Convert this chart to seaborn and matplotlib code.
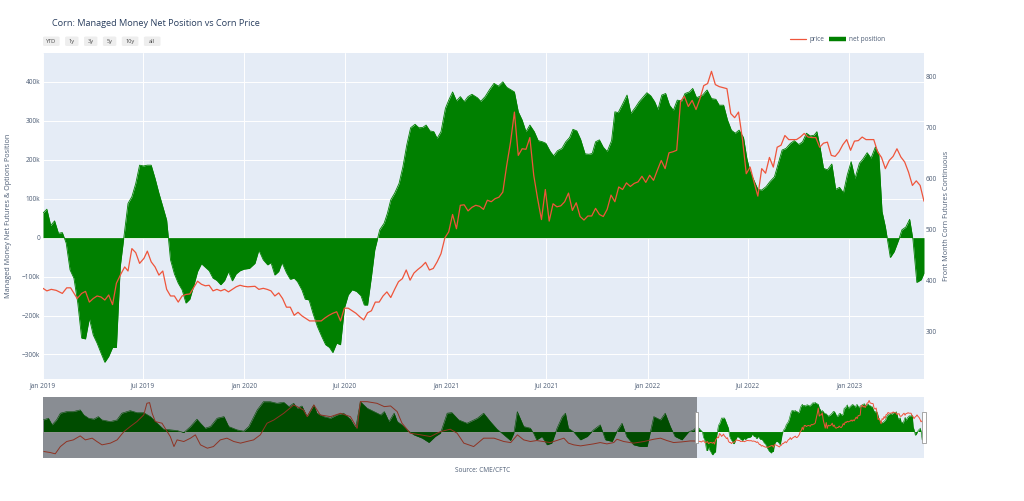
import pandas as pd
import matplotlib.pyplot as plt
import matplotlib.dates as mdates
import seaborn as sns
from matplotlib.lines import Line2D
from matplotlib.patches import Rectangle, FancyBboxPatch
from matplotlib.transforms import blended_transform_factory

# Managed money net position (thousand contracts), weekly COT readings shown in the main window
net_dates = [
    "2019-01-01", "2019-01-08", "2019-01-15", "2019-01-22", "2019-01-29", "2019-02-05", "2019-02-12", "2019-02-19",
    "2019-02-26", "2019-03-05", "2019-03-12", "2019-03-19", "2019-03-26", "2019-04-02", "2019-04-09", "2019-04-16",
    "2019-04-23", "2019-04-30", "2019-05-07", "2019-05-14", "2019-05-21", "2019-06-04", "2019-06-11", "2019-06-18",
    "2019-06-25", "2019-07-02", "2019-07-09", "2019-07-16", "2019-07-23", "2019-07-30", "2019-08-06", "2019-08-13",
    "2019-08-20", "2019-08-27", "2019-09-03", "2019-09-10", "2019-09-17", "2019-09-24", "2019-10-01", "2019-10-08",
    "2019-10-15", "2019-10-22", "2019-10-29", "2019-11-05", "2019-11-12", "2019-11-19", "2019-11-26", "2019-12-03",
    "2019-12-10", "2019-12-17", "2019-12-24", "2019-12-31", "2020-01-10", "2020-01-20", "2020-01-27", "2020-02-04",
    "2020-02-12", "2020-02-18", "2020-02-25", "2020-03-03", "2020-03-09", "2020-03-17", "2020-03-24", "2020-03-31",
    "2020-04-06", "2020-04-14", "2020-04-20", "2020-04-27", "2020-05-04", "2020-05-12", "2020-05-20", "2020-05-27",
    "2020-06-03", "2020-06-09", "2020-06-16", "2020-06-23", "2020-06-30", "2020-07-07", "2020-07-14", "2020-07-22",
    "2020-07-30", "2020-08-05", "2020-08-11", "2020-08-18", "2020-08-24", "2020-09-02", "2020-09-10", "2020-09-16",
    "2020-09-22", "2020-09-29", "2020-10-07", "2020-10-14", "2020-10-21", "2020-10-28", "2020-11-05", "2020-11-12",
    "2020-11-19", "2020-11-25", "2020-12-02", "2020-12-09", "2020-12-15", "2020-12-22", "2020-12-30", "2021-01-05",
    "2021-01-12", "2021-01-19", "2021-01-26", "2021-02-02", "2021-02-09", "2021-02-16", "2021-02-26", "2021-03-04",
    "2021-03-12", "2021-03-20", "2021-03-28", "2021-04-05", "2021-04-13", "2021-04-20", "2021-04-27", "2021-05-04",
    "2021-05-11", "2021-05-18", "2021-05-25", "2021-06-01", "2021-06-09", "2021-06-16", "2021-06-24", "2021-06-30",
    "2021-07-08", "2021-07-14", "2021-07-21", "2021-07-29", "2021-08-05", "2021-08-12", "2021-08-18", "2021-08-25",
    "2021-09-01", "2021-09-09", "2021-09-16", "2021-09-22", "2021-09-28", "2021-10-05", "2021-10-12", "2021-10-19",
    "2021-10-27", "2021-11-02", "2021-11-08", "2021-11-16", "2021-11-24", "2021-12-01", "2021-12-09", "2021-12-16",
    "2021-12-24", "2021-12-30", "2022-01-06", "2022-01-13", "2022-01-19", "2022-01-26", "2022-02-02", "2022-02-09",
    "2022-02-16", "2022-02-23", "2022-03-03", "2022-03-09", "2022-03-17", "2022-03-23", "2022-03-30", "2022-04-10",
    "2022-04-18", "2022-04-26", "2022-05-04", "2022-05-10", "2022-05-18", "2022-05-25", "2022-06-01", "2022-06-08",
    "2022-06-15", "2022-06-23", "2022-06-29", "2022-07-05", "2022-07-11", "2022-07-19", "2022-07-26", "2022-08-03",
    "2022-08-10", "2022-08-18", "2022-08-24", "2022-09-01", "2022-09-08", "2022-09-16", "2022-09-23", "2022-10-01",
    "2022-10-08", "2022-10-15", "2022-10-22", "2022-10-29", "2022-11-03", "2022-11-09", "2022-11-15", "2022-11-22",
    "2022-11-30", "2022-12-07", "2022-12-14", "2022-12-21", "2022-12-28", "2023-01-04", "2023-01-11", "2023-01-19",
    "2023-01-25", "2023-02-02", "2023-02-09", "2023-02-17", "2023-02-23", "2023-03-01", "2023-03-07", "2023-03-16",
    "2023-03-23", "2023-03-31", "2023-04-06", "2023-04-13", "2023-04-20", "2023-04-26", "2023-05-03", "2023-05-11",
    "2023-05-16",
]
net_k = [
    63, 73, 31, 43, 11, 13, -14, -83,
    -104, -168, -258, -260, -207, -250, -271, -296,
    -320, -305, -282, -282, -74, 88, 105, 139,
    186, 184, 186, 186, 152, 114, 80, 45,
    -57, -93, -117, -134, -168, -158, -124, -87,
    -67, -76, -85, -104, -110, -121, -110, -87,
    -111, -93, -85, -81, -79, -66, -32, -57,
    -70, -64, -96, -87, -64, -90, -107, -104,
    -113, -134, -158, -160, -194, -228, -254, -275,
    -282, -295, -271, -275, -181, -147, -134, -138,
    -149, -173, -173, -100, -32, 20, 37, 63,
    97, 114, 139, 182, 238, 282, 291, 282,
    283, 289, 274, 272, 255, 272, 332, 353,
    374, 351, 362, 349, 362, 368, 359, 350,
    362, 380, 396, 389, 400, 386, 380, 374,
    323, 302, 272, 289, 272, 249, 246, 242,
    221, 210, 223, 229, 246, 257, 278, 274,
    252, 215, 214, 216, 246, 251, 232, 221,
    249, 323, 321, 343, 366, 319, 334, 349,
    362, 372, 364, 349, 329, 366, 370, 340,
    327, 353, 351, 370, 374, 383, 359, 366,
    379, 357, 355, 340, 340, 302, 276, 268,
    276, 257, 204, 169, 150, 124, 122, 131,
    144, 156, 186, 225, 229, 242, 249, 239,
    246, 268, 261, 263, 272, 229, 178, 174,
    189, 124, 129, 115, 161, 195, 152, 191,
    201, 218, 204, 233, 216, 67, 28, -51,
    -36, -6, 20, 27, 47, -5, -115, -108,
    -91,
]

# Front month corn futures (cents/bu)
price_dates = [
    "2019-01-01", "2019-01-08", "2019-01-16", "2019-01-25", "2019-02-05", "2019-02-13", "2019-02-20", "2019-03-04",
    "2019-03-12", "2019-03-19", "2019-03-26", "2019-04-02", "2019-04-09", "2019-04-16", "2019-04-23", "2019-04-30",
    "2019-05-07", "2019-05-14", "2019-05-22", "2019-05-29", "2019-06-04", "2019-06-11", "2019-06-18", "2019-06-25",
    "2019-07-03", "2019-07-09", "2019-07-16", "2019-07-23", "2019-07-30", "2019-08-06", "2019-08-13", "2019-08-20",
    "2019-08-27", "2019-09-03", "2019-09-10", "2019-09-17", "2019-09-24", "2019-10-08", "2019-10-15", "2019-10-22",
    "2019-10-29", "2019-11-05", "2019-11-12", "2019-11-19", "2019-11-26", "2019-12-03", "2019-12-10", "2019-12-17",
    "2019-12-24", "2019-12-31", "2020-01-07", "2020-01-20", "2020-01-27", "2020-02-04", "2020-02-11", "2020-02-18",
    "2020-02-25", "2020-03-03", "2020-03-10", "2020-03-17", "2020-03-24", "2020-03-31", "2020-04-07", "2020-04-14",
    "2020-04-21", "2020-04-28", "2020-05-05", "2020-05-12", "2020-05-19", "2020-05-26", "2020-06-02", "2020-06-09",
    "2020-06-16", "2020-06-23", "2020-06-30", "2020-07-07", "2020-07-14", "2020-07-21", "2020-07-28", "2020-08-04",
    "2020-08-11", "2020-08-18", "2020-08-25", "2020-09-01", "2020-09-08", "2020-09-15", "2020-09-22", "2020-09-29",
    "2020-10-06", "2020-10-13", "2020-10-20", "2020-10-27", "2020-11-03", "2020-11-10", "2020-11-17", "2020-11-24",
    "2020-12-01", "2020-12-08", "2020-12-15", "2020-12-22", "2020-12-29", "2021-01-05", "2021-01-12", "2021-01-19",
    "2021-01-26", "2021-02-02", "2021-02-09", "2021-02-16", "2021-02-23", "2021-03-02", "2021-03-09", "2021-03-16",
    "2021-03-23", "2021-03-30", "2021-04-06", "2021-04-13", "2021-04-20", "2021-04-27", "2021-05-04", "2021-05-11",
    "2021-05-18", "2021-05-25", "2021-06-01", "2021-06-08", "2021-06-15", "2021-06-22", "2021-06-29", "2021-07-06",
    "2021-07-13", "2021-07-20", "2021-07-27", "2021-08-03", "2021-08-10", "2021-08-17", "2021-08-24", "2021-08-31",
    "2021-09-07", "2021-09-14", "2021-09-21", "2021-09-28", "2021-10-05", "2021-10-12", "2021-10-19", "2021-10-26",
    "2021-11-02", "2021-11-09", "2021-11-16", "2021-11-23", "2021-11-30", "2021-12-07", "2021-12-14", "2021-12-21",
    "2021-12-28", "2022-01-04", "2022-01-11", "2022-01-18", "2022-01-25", "2022-02-01", "2022-02-08", "2022-02-15",
    "2022-02-22", "2022-03-01", "2022-03-08", "2022-03-15", "2022-03-22", "2022-03-29", "2022-04-05", "2022-04-12",
    "2022-04-19", "2022-04-26", "2022-05-03", "2022-05-10", "2022-05-17", "2022-05-24", "2022-05-31", "2022-06-07",
    "2022-06-14", "2022-06-21", "2022-06-28", "2022-07-05", "2022-07-12", "2022-07-19", "2022-07-26", "2022-08-02",
    "2022-08-09", "2022-08-16", "2022-08-23", "2022-08-30", "2022-09-06", "2022-09-13", "2022-09-20", "2022-09-27",
    "2022-10-04", "2022-10-11", "2022-10-18", "2022-10-25", "2022-11-01", "2022-11-08", "2022-11-15", "2022-11-22",
    "2022-11-29", "2022-12-06", "2022-12-13", "2022-12-20", "2022-12-27", "2023-01-03", "2023-01-10", "2023-01-17",
    "2023-01-24", "2023-01-31", "2023-02-07", "2023-02-14", "2023-02-21", "2023-02-28", "2023-03-07", "2023-03-14",
    "2023-03-21", "2023-03-28", "2023-04-04", "2023-04-11", "2023-04-18", "2023-04-25", "2023-05-02", "2023-05-09",
    "2023-05-16",
]
price_vals = [
    384, 379, 382, 380, 374, 385, 385, 364,
    374, 378, 357, 364, 369, 367, 361, 371,
    352, 394, 412, 426, 418, 462, 454, 433,
    443, 457, 436, 426, 410, 418, 382, 369,
    369, 357, 369, 372, 373, 398, 392, 389,
    390, 379, 382, 379, 382, 377, 382, 387,
    390, 388, 387, 388, 382, 384, 382, 379,
    369, 375, 364, 347, 347, 331, 337, 330,
    325, 320, 320, 320, 320, 326, 331, 335,
    338, 320, 345, 345, 340, 335, 328, 322,
    336, 340, 357, 357, 369, 377, 366, 382,
    397, 403, 420, 400, 414, 421, 427, 435,
    420, 423, 436, 452, 483, 495, 529, 501,
    547, 548, 536, 543, 547, 545, 539, 557,
    554, 560, 563, 573, 625, 671, 730, 645,
    658, 657, 680, 606, 560, 519, 578, 516,
    550, 544, 546, 554, 571, 537, 552, 525,
    518, 526, 526, 541, 529, 525, 539, 567,
    554, 583, 578, 591, 584, 590, 593, 604,
    592, 606, 596, 616, 635, 619, 650, 652,
    655, 751, 761, 741, 753, 735, 756, 782,
    786, 810, 784, 780, 778, 776, 727, 719,
    730, 678, 609, 622, 593, 565, 619, 610,
    641, 622, 661, 665, 684, 676, 676, 676,
    681, 688, 681, 680, 680, 661, 669, 671,
    645, 643, 652, 666, 676, 655, 673, 674,
    681, 676, 676, 676, 652, 641, 619, 635,
    643, 658, 642, 632, 612, 586, 595, 586,
    555,
]

# Earlier history (2006 - 2018)
hist_net_dates = [
    "2006-06-15", "2006-07-20", "2006-08-15", "2006-09-15", "2006-10-12", "2006-11-25", "2007-01-10", "2007-02-28",
    "2007-03-25", "2007-04-28", "2007-06-03", "2007-07-05", "2007-07-30", "2007-09-27", "2007-11-13", "2007-12-17",
    "2008-02-14", "2008-04-01", "2008-05-18", "2008-07-05", "2008-09-02", "2008-10-05", "2008-11-22", "2009-01-08",
    "2009-02-24", "2009-04-12", "2009-05-27", "2009-06-21", "2009-07-24", "2009-08-30", "2009-10-16", "2009-12-03",
    "2010-01-05", "2010-03-05", "2010-04-20", "2010-05-26", "2010-07-24", "2010-09-06", "2010-10-23", "2010-12-10",
    "2011-01-26", "2011-03-04", "2011-04-06", "2011-05-01", "2011-06-03", "2011-07-09", "2011-08-25", "2011-09-16",
    "2011-11-03", "2011-12-20", "2012-02-03", "2012-03-21", "2012-05-08", "2012-06-14", "2012-07-17", "2012-09-03",
    "2012-10-20", "2012-12-07", "2013-01-01", "2013-02-03", "2013-03-11", "2013-04-02", "2013-05-05", "2013-06-10",
    "2013-07-27", "2013-09-24", "2013-11-10", "2013-12-24", "2014-01-30", "2014-03-18", "2014-04-20", "2014-06-07",
    "2014-08-04", "2014-10-16", "2014-11-29", "2015-01-15", "2015-03-03", "2015-04-20", "2015-06-06", "2015-06-29",
    "2015-07-23", "2015-09-06", "2015-10-23", "2015-11-14", "2015-12-06", "2016-01-12", "2016-02-17", "2016-03-21",
    "2016-04-27", "2016-06-03", "2016-06-25", "2016-07-16", "2016-08-22", "2016-10-08", "2016-11-25", "2017-01-08",
    "2017-02-24", "2017-04-02", "2017-05-19", "2017-06-21", "2017-07-27", "2017-08-29", "2017-10-16", "2017-12-02",
    "2018-01-19", "2018-03-07", "2018-04-23", "2018-05-26", "2018-07-01", "2018-08-03", "2018-09-20", "2018-11-06",
    "2018-12-12",
]
hist_net_k = [
    160, 183, 92, 160, 252, 274, 274, 297,
    228, 183, 170, 205, 160, 137, 160, 252,
    287, 260, 260, 205, 92, 33, 23, 14,
    -14, 69, 170, 114, 46, 69, 183, 205,
    69, 23, 5, 69, 297, 410, 410, 388,
    402, 342, 388, 320, 351, 205, 365, 252,
    205, 183, 228, 252, 170, 46, 410, 320,
    274, 228, 274, 137, 252, 137, 92, 23,
    -45, -91, -150, -68, -22, 252, 260, 160,
    114, 183, 252, 137, 33, -45, -123, -20,
    274, 69, 46, -22, -114, -68, -182, -159,
    46, 205, 252, 46, -5, -114, -68, 23,
    92, -114, -136, 5, 114, -68, -182, -205,
    -205, 205, 160, 252, 69, -68, -114, -5,
    23,
]
hist_price_dates = [
    "2006-06-18", "2006-07-31", "2006-09-06", "2006-10-12", "2006-11-25", "2007-01-11", "2007-02-28", "2007-04-05",
    "2007-05-23", "2007-06-25", "2007-07-31", "2007-09-28", "2007-11-14", "2008-01-01", "2008-02-14", "2008-04-01",
    "2008-05-19", "2008-06-10", "2008-06-29", "2008-07-17", "2008-08-08", "2008-09-24", "2008-10-31", "2008-11-21",
    "2008-12-17", "2009-01-08", "2009-02-24", "2009-04-12", "2009-05-16", "2009-06-21", "2009-08-08", "2009-09-20",
    "2009-11-07", "2009-12-24", "2010-02-10", "2010-03-29", "2010-05-12", "2010-06-29", "2010-08-15", "2010-10-01",
    "2010-11-18", "2011-01-26", "2011-04-06", "2011-05-01", "2011-06-14", "2011-07-10", "2011-08-26", "2011-10-09",
    "2011-12-21", "2012-02-28", "2012-05-08", "2012-06-25", "2012-07-17", "2012-09-02", "2012-11-10", "2013-01-01",
    "2013-02-14", "2013-04-01", "2013-05-05", "2013-07-02", "2013-09-13", "2013-11-21", "2014-01-30", "2014-04-09",
    "2014-05-27", "2014-07-13", "2014-09-20", "2014-11-29", "2015-02-10", "2015-04-20", "2015-06-07", "2015-07-24",
    "2015-09-06", "2015-10-23", "2015-12-06", "2016-01-22", "2016-03-11", "2016-05-08", "2016-06-14", "2016-07-16",
    "2016-08-22", "2016-10-09", "2016-11-25", "2017-01-08", "2017-02-24", "2017-04-12", "2017-05-30", "2017-06-21",
    "2017-08-08", "2017-10-16", "2017-12-28", "2018-03-07", "2018-04-23", "2018-06-07", "2018-07-24", "2018-09-20",
    "2018-11-18",
]
hist_price_vals = [
    274, 264, 250, 326, 379, 396, 438, 396,
    414, 379, 344, 362, 396, 483, 536, 588,
    658, 780, 787, 675, 588, 571, 483, 431,
    326, 396, 379, 414, 449, 344, 309, 326,
    396, 414, 379, 362, 379, 396, 449, 571,
    605, 675, 762, 745, 710, 640, 762, 658,
    640, 675, 640, 518, 797, 797, 780, 745,
    752, 693, 571, 466, 449, 431, 483, 508,
    466, 362, 326, 414, 414, 379, 368, 449,
    396, 379, 389, 379, 368, 396, 414, 362,
    344, 333, 344, 354, 368, 354, 368, 403,
    379, 362, 379, 403, 414, 389, 368, 375,
    385,
]

net_ticks = [-300, -200, -100, 0, 100, 200, 300, 400]
price_ticks = [300, 400, 500, 600, 700, 800]
range_buttons = ["YTD", "1y", "3y", "5y", "10y", "all"]

GREEN = "#008000"
RED = "#EF553B"
BG = "#e5ecf6"
TXT = "#2a3f5f"
TICK = "#4d5d75"

net_df = pd.DataFrame({"date": pd.to_datetime(net_dates), "net": net_k})
price_df = pd.DataFrame({"date": pd.to_datetime(price_dates), "price": price_vals})
all_net = pd.concat([pd.DataFrame({"date": pd.to_datetime(hist_net_dates), "net": hist_net_k}), net_df])
all_price = pd.concat([pd.DataFrame({"date": pd.to_datetime(hist_price_dates), "price": hist_price_vals}), price_df])

sns.set_theme(style="darkgrid", rc={"axes.facecolor": BG, "grid.color": "white"})
plt.rcParams["font.family"] = ["Open Sans", "DejaVu Sans"]

W, H = 1024, 501
fig = plt.figure(figsize=(W / 100, H / 100), dpi=100)
fig.patch.set_facecolor("white")


def box(l, t, r, b):
    # pixel box -> figure fraction
    return [l / W, 1 - b / H, (r - l) / W, (b - t) / H]


NET_LIM = (-363, 474)
PRICE_LIM = (206, 846)
x0, x1 = net_df["date"].iloc[0], price_df["date"].iloc[-1]

# main chart
ax = fig.add_axes(box(43, 53, 924, 379))
ax.fill_between(net_df["date"], net_df["net"], 0, color=GREEN, lw=0, interpolate=True, zorder=2)
sns.lineplot(data=net_df, x="date", y="net", ax=ax, color=GREEN, lw=0.6, estimator=None, zorder=3)
ax.axhline(0, color="white", lw=1.0, zorder=1)
ax.set_xlim(x0, x1)
ax.set_ylim(*NET_LIM)
ax.set_yticks(net_ticks)
ax.set_yticklabels([("0" if v == 0 else f"{v}k").replace("-", "\u2212") for v in net_ticks])
ax.set_xticks(pd.date_range("2019-01-01", "2023-01-01", freq="6MS"))
ax.xaxis.set_major_formatter(mdates.DateFormatter("%b %Y"))
ax.tick_params(axis="both", length=0, labelsize=4.7, colors=TICK)
ax.tick_params(axis="y", pad=2)
ax.tick_params(axis="x", pad=2.5)
ax.grid(True, color="white", lw=0.7)
ax.set_xlabel("")
ax.set_ylabel("")
for s in ax.spines.values():
    s.set_visible(False)

ax2 = ax.twinx()
sns.lineplot(data=price_df, x="date", y="price", ax=ax2, color=RED, lw=0.9, estimator=None)
ax2.set_ylim(*PRICE_LIM)
ax2.set_xlim(x0, x1)
ax2.set_yticks(price_ticks)
ax2.grid(False)
ax2.set_ylabel("")
ax2.tick_params(axis="y", length=0, labelsize=4.7, colors=TICK, pad=1)
for s in ax2.spines.values():
    s.set_visible(False)

# range slider
sl = fig.add_axes(box(43, 397, 924, 458))
sl.fill_between(all_net["date"], all_net["net"], 0, color=GREEN, lw=0, interpolate=True)
sns.lineplot(data=all_net, x="date", y="net", ax=sl, color=GREEN, lw=0.4, estimator=None)
sl.axhline(0, color="white", lw=0.6, zorder=0.5)
s0 = all_net["date"].iloc[0] - pd.Timedelta(days=3)
sl.set_xlim(s0, x1)
sl.set_ylim(*NET_LIM)
sl.grid(False)
sl.set_xticks([])
sl.set_yticks([])
sl.set_xlabel("")
sl.set_ylabel("")
for s in sl.spines.values():
    s.set_visible(False)

sl2 = sl.twinx()
sns.lineplot(data=all_price, x="date", y="price", ax=sl2, color=RED, lw=0.7, estimator=None)
sl2.set_ylim(*PRICE_LIM)
sl2.set_xlim(s0, x1)
sl2.grid(False)
sl2.set_yticks([])
sl2.set_ylabel("")
for s in sl2.spines.values():
    s.set_visible(False)
# grey mask over the part outside the selected window
sl2.axvspan(s0, x0, color="black", alpha=0.4, lw=0, zorder=10)
tr = blended_transform_factory(sl2.transData, sl2.transAxes)
for d in (x0, x1):
    sl2.add_patch(Rectangle((d - pd.Timedelta(days=12), 0.25), pd.Timedelta(days=24), 0.5, transform=tr,
                            facecolor="white", edgecolor="#999999", lw=0.6, zorder=11, clip_on=False))

# title, axis titles, source
fig.text(52 / W, 1 - 24 / H, "Corn: Managed Money Net Position vs Corn Price", fontsize=6.6, color=TXT, va="center")
fig.text(9 / W, 1 - 216 / H, "Managed Money Net Futures & Options Position", rotation=90,
         fontsize=5.2, color=TICK, ha="center", va="center")
fig.text(946 / W, 1 - 216 / H, "Front Month Corn Futures Continuous", rotation=90,
         fontsize=5.2, color=TICK, ha="center", va="center")
fig.text(483 / W, 1 - 470 / H, "Source: CME/CFTC", fontsize=4.7, color=TICK, ha="center", va="center")

# range selector buttons
bx = 43
for lab in range_buttons:
    bw = 7 + 3.2 * len(lab)
    fig.patches.append(FancyBboxPatch((bx / W, 1 - 46 / H), bw / W, 9.5 / H, boxstyle="round,pad=0,rounding_size=0.002",
                                      transform=fig.transFigure, facecolor="#eeeeee", edgecolor="none"))
    fig.text((bx + bw / 2) / W, 1 - 41.2 / H, lab, fontsize=4.1, color="#444444", ha="center", va="center")
    bx += bw + 5.5

# legend, drawn by hand so the entries sit where plotly put them
ly = 1 - 39 / H
fig.add_artist(Line2D([790 / W, 806 / W], [ly, ly], color=RED, lw=0.9, transform=fig.transFigure))
fig.text(809 / W, ly, "price", fontsize=4.7, color=TICK, va="center")
fig.add_artist(Line2D([829 / W, 846 / W], [ly, ly], color=GREEN, lw=3.2, solid_capstyle="butt",
                      transform=fig.transFigure))
fig.text(849 / W, ly, "net position", fontsize=4.7, color=TICK, va="center")

fig.savefig("out.png", dpi=100)
